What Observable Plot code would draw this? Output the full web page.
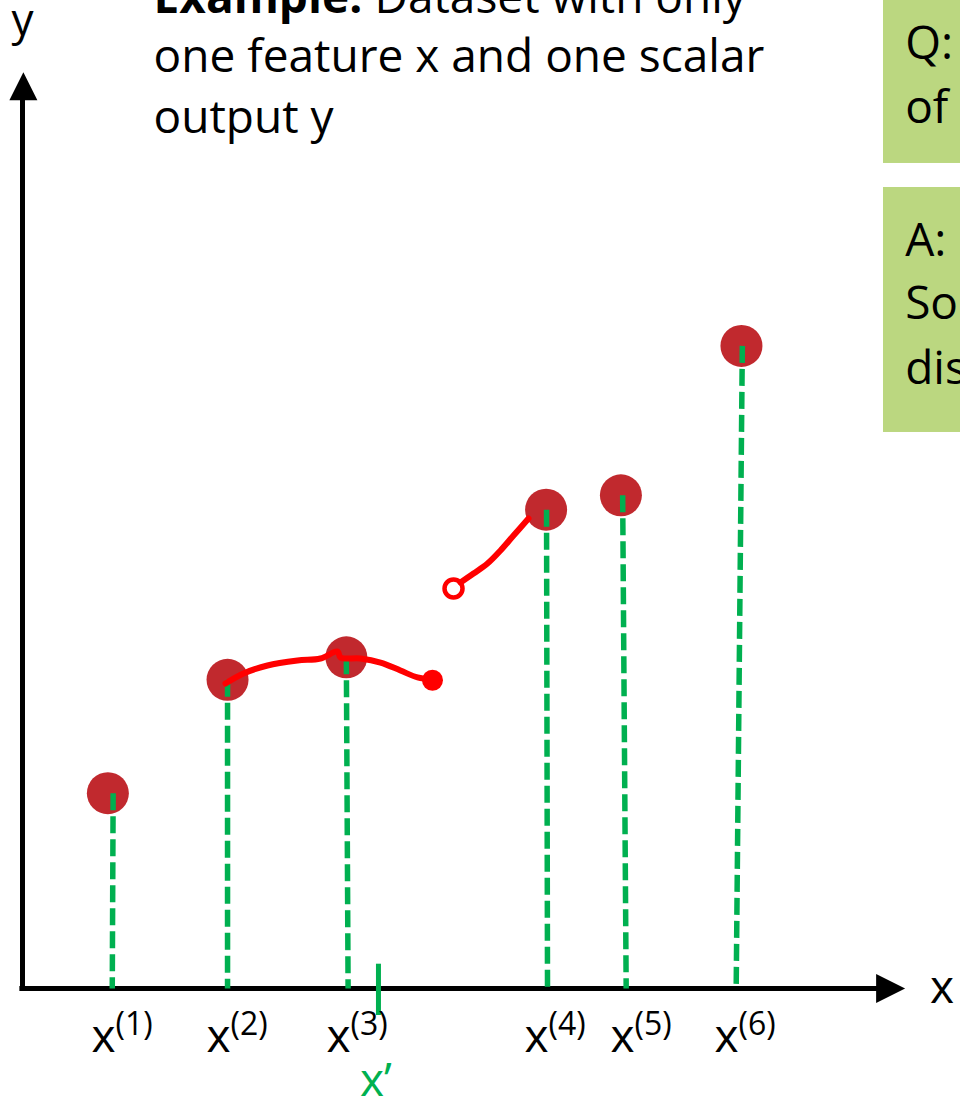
<!DOCTYPE html>
<html><head><meta charset="utf-8">
<script src="https://cdn.jsdelivr.net/npm/d3@7"></script>
<script src="https://cdn.jsdelivr.net/npm/@observablehq/plot@0.6"></script>
<style>html,body{margin:0;padding:0;background:#fff;overflow:hidden}#chart svg{display:block}</style>
</head><body><div id="chart"></div>
<script>
// ---- data (in chart units: origin of the axes = (0,0)) ----
const sampleNames = ["(1)", "(2)", "(3)", "(4)", "(5)", "(6)"];
const sampleX = [0.97, 2.33, 3.68, 5.95, 6.80, 8.17];
const sampleY = [2.17, 3.43, 3.68, 5.32, 5.48, 7.14];
const stemTopX = [1.03, 2.33, 3.68, 5.955, 6.82, 8.18];
const stemBottomX = [1.02, 2.33, 3.70, 5.966, 6.86, 8.11];
const labelX = [1.057, 2.364, 3.727, 5.977, 6.955, 8.136];
const queryX = 4.045;
const queryLabel = "x\u2019";

// hand-drawn red sketch strokes
const sketch1X = [2.307, 2.511, 2.784, 3.125, 3.386, 3.58, 3.614, 3.841, 4.068, 4.295, 4.489, 4.659];
const sketch1Y = [3.389, 3.5, 3.589, 3.644, 3.667, 3.744, 3.678, 3.667, 3.622, 3.533, 3.456, 3.433];
const sketch1End = [4.659, 3.425];
const sketch2X = [4.977, 5.125, 5.284, 5.432, 5.58, 5.75];
const sketch2Y = [4.511, 4.611, 4.722, 4.867, 5.033, 5.222];
const sketch2Loop = [4.898, 4.444];

// text
const titleBold = "Example:";
const titleRest = "Dataset with only";
const titleLines = ["one feature x and one scalar", "output y"];
const qLines = ["Q:", "of"];
const aLines = ["A:", "So", "dis"];

const green = "#00B050", dotRed = "#C1292E", sketchRed = "#FF0000", boxGreen = "#BBD780";

const samples = sampleNames.map((n, i) => ({
  name: n, x: sampleX[i], y: sampleY[i], tx: stemTopX[i], bx: stemBottomX[i], lx: labelX[i]
}));
const sketch1 = sketch1X.map((x, i) => ({x, y: sketch1Y[i]}));
const sketch2 = sketch2X.map((x, i) => ({x, y: sketch2Y[i]}));

const arrowHead = {
  draw(ctx, size) {
    const r = Math.sqrt(size / Math.PI);
    ctx.moveTo(0, 0); ctx.lineTo(-r, 2 * r); ctx.lineTo(r, 2 * r); ctx.closePath();
  }
};

const F = "Open Sans";
const chart = Plot.plot({
  width: 960, height: 1100,
  marginLeft: 22, marginRight: 58, marginTop: 88, marginBottom: 112,
  x: {domain: [0, 10], axis: null},
  y: {domain: [0, 10], axis: null},
  style: {fontFamily: F, background: "#fff", overflow: "hidden"},
  marks: [
    // green boxes (Q / A)
    Plot.rect([{y1: 9.167, y2: 11.3}, {y1: 6.178, y2: 8.9}], {x1: 9.784, x2: 11.2, y1: "y1", y2: "y2", fill: boxGreen}),
    Plot.text(qLines, {x: 10.03, y: (d, i) => [10.333, 9.622][i], text: d => d, textAnchor: "start", lineAnchor: "bottom", fontSize: 46, fill: "#000"}),
    Plot.text(aLines, {x: 10.03, y: (d, i) => [8.144, 7.444, 6.722][i], text: d => d, textAnchor: "start", lineAnchor: "bottom", fontSize: 46, fill: "#000"}),
    // title
    Plot.text([titleBold], {x: 1.489, y: 10.844, text: d => d, textAnchor: "start", lineAnchor: "bottom", fontSize: 46, fontWeight: "bold", fill: "#000"}),
    Plot.text([titleRest], {x: 4.0, y: 10.844, text: d => d, textAnchor: "start", lineAnchor: "bottom", fontSize: 46, fill: "#000"}),
    Plot.text(titleLines, {x: 1.489, y: (d, i) => [10.178, 9.511][i], text: d => d, textAnchor: "start", lineAnchor: "bottom", fontSize: 46, fill: "#000"}),
    // axes
    Plot.ruleY([0], {x1: -0.03, x2: 9.72, stroke: "#000", strokeWidth: 5}),
    Plot.ruleX([0], {y1: -0.02, y2: 9.88, stroke: "#000", strokeWidth: 5}),
    Plot.dot([{x: 10.03, y: 0}], {x: "x", y: "y", symbol: arrowHead, r: 14.5, rotate: 90, fill: "#000", stroke: "none"}),
    Plot.dot([{x: 0.01, y: 10.18}], {x: "x", y: "y", symbol: arrowHead, r: 14, rotate: 0, fill: "#000", stroke: "none"}),
    Plot.text(["x"], {x: 10.45, y: -0.16, text: d => d, textAnchor: "middle", lineAnchor: "bottom", fontSize: 46, fill: "#000"}),
    Plot.text(["y"], {x: 0, y: 10.6, text: d => d, textAnchor: "middle", lineAnchor: "bottom", fontSize: 44, fill: "#000"}),
    // data points
    Plot.dot(samples, {x: "x", y: "y", r: 21, fill: dotRed, stroke: "none"}),
    // dashed stems
    Plot.link(samples, {x1: "tx", y1: "y", x2: "bx", y2: 0, stroke: green, strokeWidth: 5.5, strokeDasharray: "17,6"}),
    // query point tick
    Plot.ruleX([queryX], {y1: 0.27, y2: -0.3, stroke: green, strokeWidth: 5}),
    // tick labels x^(i)
    Plot.text(samples, {x: "lx", y: -0.711, text: () => "x", textAnchor: "end", lineAnchor: "bottom", fontSize: 46, fill: "#000"}),
    Plot.text(samples, {x: "lx", y: -0.52, text: "name", textAnchor: "start", lineAnchor: "bottom", fontSize: 32, fill: "#000"}),
    Plot.text([queryLabel], {x: queryX - 0.03, y: -1.19, text: d => d, textAnchor: "middle", lineAnchor: "bottom", fontSize: 46, fill: green}),
    // red hand-drawn sketch
    Plot.line(sketch1, {x: "x", y: "y", curve: "catmull-rom", stroke: sketchRed, strokeWidth: 6, strokeLinecap: "round", strokeLinejoin: "round"}),
    Plot.dot([sketch1End], {x: d => d[0], y: d => d[1], r: 10.5, fill: sketchRed, stroke: "none"}),
    Plot.line(sketch2, {x: "x", y: "y", curve: "catmull-rom", stroke: sketchRed, strokeWidth: 6, strokeLinecap: "round", strokeLinejoin: "round"}),
    Plot.dot([sketch2Loop], {x: d => d[0], y: d => d[1], r: 9, fill: "none", stroke: sketchRed, strokeWidth: 4.5})
  ]
});
document.getElementById("chart").append(chart);
</script>
</body></html>
